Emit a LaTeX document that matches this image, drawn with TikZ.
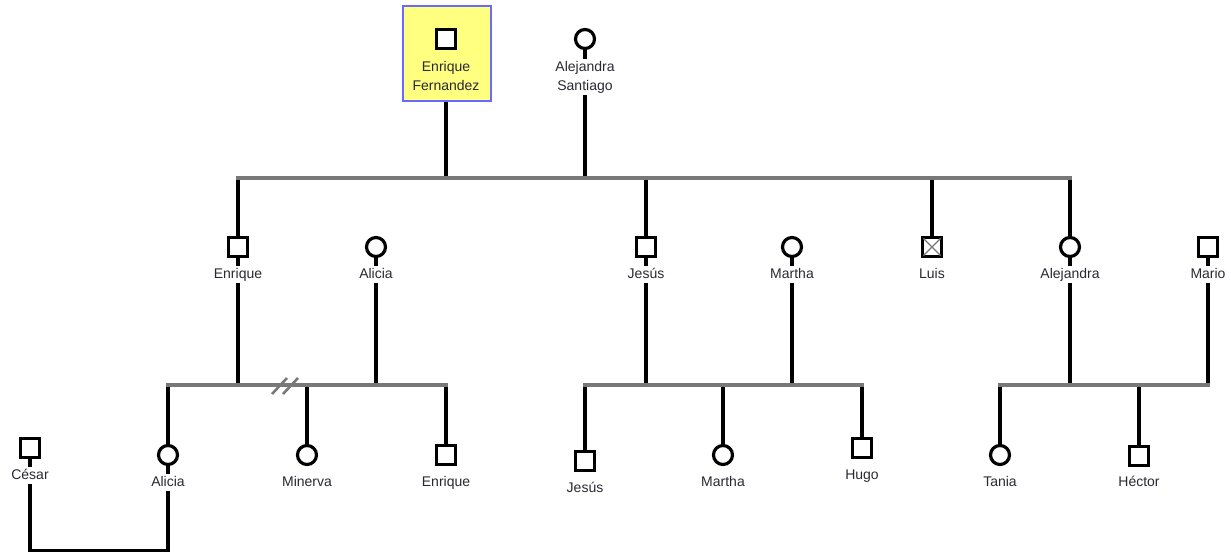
\documentclass[tikz,border=0pt]{standalone}
\usepackage{fontspec}
\setmainfont{Liberation Sans}
\usetikzlibrary{calc}
\definecolor{barc}{RGB}{120,120,120}
\definecolor{hlfill}{RGB}{255,255,128}
\definecolor{hlline}{RGB}{105,105,255}
\definecolor{txt}{RGB}{40,40,50}
\begin{document}
\begin{tikzpicture}[x=1pt,y=-1pt,
  male/.style={rectangle, draw=black, line width=3.2pt, minimum size=19.5pt, inner sep=0pt, fill=white},
  female/.style={circle, draw=black, line width=3.2pt, minimum size=19pt, inner sep=0pt, fill=white},
  lbl/.style={font=\fontsize{14}{17}\selectfont, text=txt, inner sep=2pt, text height=10pt, text depth=3pt, anchor=base},
  lbltwo/.style={font=\fontsize{14}{19}\selectfont, text=txt, inner sep=2pt, align=center, anchor=north},
  kin/.style={line width=3.2pt, black},
  bar/.style={line width=3.2pt, barc, line cap=rect},
  hl/.style={rectangle, draw=hlline, fill=hlfill, line width=2.8pt, minimum width=88pt, minimum height=95pt, inner sep=0pt}
]
\useasboundingbox (0,0) rectangle (1231,554);
% generation 1
\node[hl] (efbox) at (447,53.5) {};
\node[male] (ef) at (446,39) {};
\node[lbltwo] (efl) at (446,59) {Enrique\\Fernandez};
\node[female] (as) at (585,39) {};
\node[lbltwo] (asl) at (585,59) {Alejandra\\Santiago};
% generation 2
\node[male] (en2) at (238,247) {};
\node[lbl] (en2l) at (238,278) {Enrique};
\node[female] (al2) at (376,247) {};
\node[lbl] (al2l) at (376,278) {Alicia};
\node[male] (je2) at (646,247) {};
\node[lbl] (je2l) at (646,278) {Jesús};
\node[female] (ma2) at (792,247) {};
\node[lbl] (ma2l) at (792,278) {Martha};
\node[male] (lu2) at (932,247) {};
\node[lbl] (lu2l) at (932,278) {Luis};
\node[female] (ale2) at (1070,247) {};
\node[lbl] (ale2l) at (1070,278) {Alejandra};
\node[male] (mr2) at (1208,247) {};
\node[lbl] (mr2l) at (1208,278) {Mario};
% generation 3
\node[male] (ce3) at (30,448) {};
\node[lbl] (ce3l) at (30,479) {César};
\node[female] (al3) at (168,455) {};
\node[lbl] (al3l) at (168,486) {Alicia};
\node[female] (mi3) at (307,455) {};
\node[lbl] (mi3l) at (307,486) {Minerva};
\node[male] (en3) at (446,455) {};
\node[lbl] (en3l) at (446,486) {Enrique};
\node[male] (je3) at (585,461) {};
\node[lbl] (je3l) at (585,492) {Jesús};
\node[female] (ma3) at (723,455) {};
\node[lbl] (ma3l) at (723,486) {Martha};
\node[male] (hu3) at (862,448) {};
\node[lbl] (hu3l) at (862,479) {Hugo};
\node[female] (ta3) at (1000,455) {};
\node[lbl] (ta3l) at (1000,486) {Tania};
\node[male] (he3) at (1139,456) {};
\node[lbl] (he3l) at (1139,486) {Héctor};
% bar levels
\coordinate (bar1) at (0,178);
\coordinate (bar2) at (0,385);
\coordinate (bot) at (0,550.5);
% Luis cross
\draw[barc, line width=1.3pt] ($(lu2.north west)+(2.8,2.8)$) -- ($(lu2.south east)+(-2.8,-2.8)$);
\draw[barc, line width=1.3pt] ($(lu2.north east)+(-2.8,2.8)$) -- ($(lu2.south west)+(2.8,-2.8)$);
% gen1 verticals
\draw[kin] (as.south) -- (asl.north);
\draw[kin] (efbox.south -| ef) -- (ef |- bar1);
\draw[kin] (asl.south) -- (asl |- bar1);
% gen2 verticals
\draw[kin] (en2 |- bar1) -- (en2.north);
\draw[kin] (je2 |- bar1) -- (je2.north);
\draw[kin] (lu2 |- bar1) -- (lu2.north);
\draw[kin] (ale2 |- bar1) -- (ale2.north);
\foreach \p in {en2,al2,je2,ma2,ale2,mr2}{
  \draw[kin] (\p.south) -- (\p l.north);
  \draw[kin] (\p l.south) -- (\p l |- bar2);
}
% gen3 verticals
\foreach \c in {al3,mi3,en3,je3,ma3,hu3,ta3,he3}{
  \draw[kin] (\c |- bar2) -- (\c.north);
}
% bars
\draw[bar] (en2 |- bar1) -- (ale2 |- bar1);
\draw[bar] (al3 |- bar2) -- (en3 |- bar2);
\draw[bar] (je3 |- bar2) -- (hu3 |- bar2);
\draw[bar] (ta3 |- bar2) -- (mr2 |- bar2);
% divorce marks
\draw[barc, line width=2.6pt] (272,394) -- (287,378) (283,394) -- (298,378);
% César -- Alicia
\draw[kin] (ce3.south) -- (ce3l.north);
\draw[kin] (al3.south) -- (al3l.north);
\draw[kin] (ce3l.south) -- (ce3l |- bot) -- (al3l |- bot) -- (al3l.south);
\end{tikzpicture}
\end{document}
